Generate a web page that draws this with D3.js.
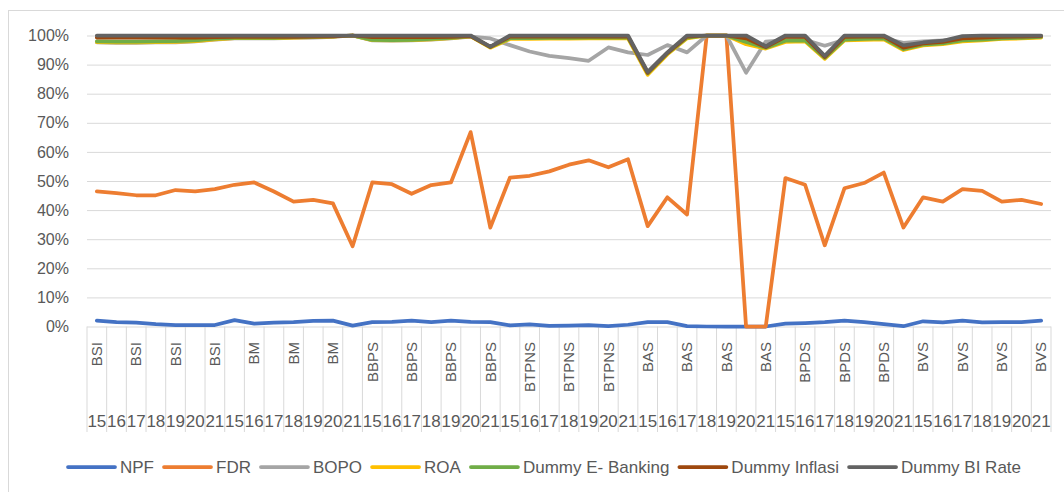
<!DOCTYPE html>
<html>
<head>
<meta charset="utf-8">
<script src="https://cdn.jsdelivr.net/npm/d3@7"></script>
<style>
  html, body { margin: 0; padding: 0; background: #fff; }
  svg { display: block; font-family: "Liberation Sans", Arial, sans-serif; }
</style>
</head>
<body>
<div id="chart"></div>
<script>
// categories: bank x year
const banks = ["BSI", "BM", "BBPS", "BTPNS", "BAS", "BPDS", "BVS"];
const years = ["15", "16", "17", "18", "19", "20", "21"];

// values (percent, as drawn)
const npf = [2.0, 1.5, 1.3, 0.8, 0.5, 0.5, 0.5,
  2.2, 1.0, 1.3, 1.5, 1.9, 2.0, 0.3,
  1.5, 1.6, 2.0, 1.5, 2.0, 1.6, 1.5,
  0.4, 0.7, 0.2, 0.3, 0.5, 0.1, 0.6,
  1.5, 1.5, 0.1, 0, 0, 0, 0,
  1.0, 1.2, 1.5, 2.0, 1.5, 0.8, 0.1,
  1.8, 1.4, 2.0, 1.4, 1.5, 1.5, 2.0];
const fdr = [46.4, 45.8, 45.1, 45.1, 46.9, 46.4, 47.2,
  48.7, 49.5, 46.4, 42.9, 43.5, 42.3, 27.6,
  49.5, 48.9, 45.6, 48.6, 49.5, 66.8, 34.0,
  51.2, 51.8, 53.3, 55.6, 57.1, 54.7, 57.5,
  34.5, 44.4, 38.5, 100, 100, 0, 0,
  51.0, 48.7, 27.9, 47.5, 49.3, 52.9, 34.0,
  44.4, 42.9, 47.2, 46.6, 42.9, 43.5, 42.1];
const bopo = [97.6, 97.5, 97.5, 97.6, 97.6, 98.0, 98.6,
  99.0, 99.0, 99.0, 99.2, 99.3, 99.5, 100,
  98.3, 98.2, 98.3, 98.6, 99.0, 99.6, 99.0,
  96.7, 94.5, 93.0, 92.2, 91.3, 95.9, 94.2,
  93.3, 96.7, 94.2, 100, 100, 87.2, 97.9,
  98.4, 98.5, 96.5, 98.5, 98.8, 99.0, 97.5,
  98.0, 98.3, 99.0, 99.0, 99.3, 99.5, 99.6];
const roa = [97.7, 97.6, 97.6, 97.7, 97.8, 98.1, 98.7,
  99.1, 99.1, 99.1, 99.3, 99.4, 99.6, 100,
  98.4, 98.3, 98.4, 98.7, 99.1, 99.7, 95.8,
  98.8, 98.8, 98.9, 98.9, 99.0, 99.0, 99.0,
  86.5, 93.5, 99.0, 100, 100, 97.0, 95.5,
  97.8, 98.0, 92.0, 98.3, 98.5, 98.7, 95.0,
  96.6, 97.0, 98.0, 98.3, 98.8, 99.0, 99.3];
const eBanking = [98.0, 97.9, 97.9, 98.0, 98.1, 98.3, 98.9,
  99.2, 99.2, 99.2, 99.4, 99.5, 99.7, 100,
  98.5, 98.4, 98.5, 98.8, 99.2, 99.8, 96.0,
  99.1, 99.1, 99.2, 99.2, 99.3, 99.3, 99.3,
  87.0, 93.8, 99.3, 100, 100, 97.8, 95.8,
  98.2, 98.3, 92.3, 98.6, 98.8, 99.0, 95.3,
  96.9, 97.3, 98.3, 98.6, 99.0, 99.2, 99.5];
const inflasi = [99.3, 99.3, 99.3, 99.3, 99.3, 99.3, 99.4,
  99.5, 99.5, 99.5, 99.5, 99.6, 99.7, 100,
  99.4, 99.4, 99.4, 99.4, 99.5, 99.8, 96.1,
  99.6, 99.6, 99.6, 99.6, 99.6, 99.6, 99.6,
  87.2, 94.0, 99.6, 100, 100, 99.0, 96.0,
  99.5, 99.5, 92.6, 99.5, 99.6, 99.7, 95.8,
  97.3, 97.8, 99.0, 99.3, 99.5, 99.6, 99.8];
const biRate = [100, 100, 100, 100, 100, 100, 100,
  100, 100, 100, 100, 100, 100, 100,
  100, 100, 100, 100, 100, 100, 96.2,
  100, 100, 100, 100, 100, 100, 100,
  87.5, 94.2, 100, 100, 100, 100, 96.3,
  100, 100, 93.0, 100, 100, 100, 96.6,
  97.6, 98.2, 99.8, 100, 100, 100, 100];

const seriesNames = ["NPF", "FDR", "BOPO", "ROA", "Dummy E- Banking", "Dummy Inflasi", "Dummy BI Rate"];
const seriesValues = [npf, fdr, bopo, roa, eBanking, inflasi, biRate];
const seriesColors = ["#4472C4", "#ED7D31", "#A5A5A5", "#FFC000", "#70AD47", "#9E480E", "#636363"];

const categories = [];
banks.forEach(b => years.forEach(yr => categories.push({bank: b, year: yr})));

const full_width = 1064, full_height = 492;
const textColor = "#595959", gridColor = "#D9D9D9";

const svg = d3.select("#chart").append("svg")
  .attr("width", full_width)
  .attr("height", full_height);

// chart area border
svg.append("rect")
  .attr("x", 8.5).attr("y", 10.5)
  .attr("width", 1100).attr("height", 600)
  .attr("fill", "none")
  .attr("stroke", gridColor);

const x = d3.scaleBand()
  .domain(d3.range(categories.length))
  .range([87, 1051]);
const y = d3.scaleLinear()
  .domain([0, 100])
  .range([326.5, 35.5]);

// y axis with gridlines
const yAxis = svg.append("g")
  .attr("transform", "translate(87,0)")
  .call(d3.axisLeft(y)
    .tickValues(d3.range(0, 101, 10))
    .tickSize(-(1051 - 87))
    .tickPadding(18)
    .tickFormat(d => d + "%"));
yAxis.select(".domain").remove();
yAxis.selectAll(".tick line").attr("stroke", gridColor);
yAxis.selectAll(".tick text")
  .attr("fill", textColor)
  .attr("font-size", "16px")
  .attr("font-family", "'Liberation Sans', Arial, sans-serif");

// category separators below the axis
const bounds = d3.range(categories.length + 1);
svg.append("g")
  .selectAll("line")
  .data(bounds)
  .enter()
  .append("line")
    .attr("x1", i => i < categories.length ? x(i) : x.range()[1])
    .attr("x2", i => i < categories.length ? x(i) : x.range()[1])
    .attr("y1", y(0))
    .attr("y2", 432)
    .attr("stroke", gridColor);

const bw = x.bandwidth();

// bank labels (every second category, rotated)
svg.append("g")
  .selectAll("text")
  .data(categories.map((c, i) => ({c, i})).filter(d => d.i % 2 === 0))
  .enter()
  .append("text")
    .attr("transform", d => "translate(" + (x(d.i) + bw / 2) + ",342) rotate(-90)")
    .attr("dy", "0.35em")
    .attr("text-anchor", "end")
    .attr("font-size", "15px")
    .attr("fill", textColor)
    .text(d => d.c.bank);

// year labels
svg.append("g")
  .selectAll("text")
  .data(categories)
  .enter()
  .append("text")
    .attr("x", (d, i) => x(i) + bw / 2)
    .attr("y", 427)
    .attr("text-anchor", "middle")
    .attr("font-size", "17px")
    .attr("fill", textColor)
    .text(d => d.year);

// lines, first series drawn first
const line = d3.line()
  .x((d, i) => x(i) + bw / 2)
  .y(d => y(d));

svg.append("g")
  .selectAll("path")
  .data(seriesValues)
  .enter()
  .append("path")
    .attr("d", d => line(d))
    .attr("fill", "none")
    .attr("stroke", (d, i) => seriesColors[i])
    .attr("stroke-width", 3.75)
    .attr("stroke-linejoin", "round")
    .attr("stroke-linecap", "round");

// legend
const legend = svg.append("g");
let lx = 68;
const ly = 467;
seriesNames.forEach((name, i) => {
  legend.append("line")
    .attr("x1", lx).attr("x2", lx + 47)
    .attr("y1", ly).attr("y2", ly)
    .attr("stroke", seriesColors[i])
    .attr("stroke-width", 3.75)
    .attr("stroke-linecap", "round");
  const t = legend.append("text")
    .attr("x", lx + 52)
    .attr("y", ly + 6)
    .attr("font-size", "17px")
    .attr("fill", textColor)
    .text(name);
  lx += 52 + t.node().getComputedTextLength() + 10;
});
</script>
</body>
</html>
